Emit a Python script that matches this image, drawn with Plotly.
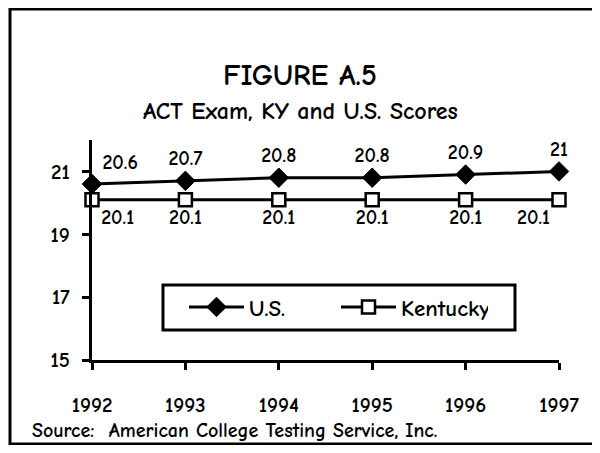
import plotly.graph_objects as go

years = [1992, 1993, 1994, 1995, 1996, 1997]
us_scores = [20.6, 20.7, 20.8, 20.8, 20.9, 21.0]
ky_scores = [20.1, 20.1, 20.1, 20.1, 20.1, 20.1]
us_labels = ["20.6", "20.7", "20.8", "20.8", "20.9", "21"]
ky_labels = ["20.1", "20.1", "20.1", "20.1", "20.1", "20.1"]
y_ticks = [15, 17, 19, 21]

FONT = "Comic Sans MS, Comic Neue, Noto Sans, sans-serif"

OFF = 8  # page body margin offset
W, H = 588, 437
L, R, T, B = 92 - OFF, 559 - OFF, 140 - OFF, 360 - OFF  # plot area in figure px


def px_x(px):
    return (px - OFF - L) / (R - L)


def px_y(py):
    return (B - (py - OFF)) / (B - T)


fig = go.Figure()
fig.add_trace(go.Scatter(
    x=years, y=us_scores, name="U.S.", mode="lines+markers+text",
    text=us_labels,
    textposition=["top right", "top center", "top center", "top center", "top center", "top center"],
    textfont=dict(family=FONT, size=20, color="black", weight="bold"),
    line=dict(color="black", width=3),
    marker=dict(symbol="diamond", size=15, color="black", line=dict(color="black", width=1)),
    cliponaxis=False,
))
fig.add_trace(go.Scatter(
    x=years, y=ky_scores, name="Kentucky", mode="lines+markers+text",
    text=ky_labels,
    textposition=["bottom right", "bottom center", "bottom center", "bottom center", "bottom center", "bottom left"],
    textfont=dict(family=FONT, size=20, color="black", weight="bold"),
    line=dict(color="black", width=3),
    marker=dict(symbol="square", size=13, color="white", line=dict(color="black", width=2.5)),
    cliponaxis=False,
))

fig.update_layout(
    width=W, height=H,
    margin=dict(l=L, r=W - R, t=T, b=H - B, pad=0),
    paper_bgcolor="white", plot_bgcolor="white",
    font=dict(family=FONT, color="black"),
    hovermode=False,
    showlegend=True,
    legend=dict(
        orientation="h", x=px_x(184), y=px_y(307), xanchor="left", yanchor="middle",
        borderwidth=0, bgcolor="rgba(0,0,0,0)",
        font=dict(family=FONT, size=23, color="black", weight="bold"),
        itemwidth=55, entrywidth=82, entrywidthmode="pixels",
    ),
    xaxis=dict(
        range=[1992, 1997], tickvals=years, ticktext=[str(y) for y in years],
        showline=True, linecolor="black", linewidth=3,
        ticks="outside", ticklen=7, tickwidth=3, tickcolor="black",
        showgrid=False, zeroline=False, ticklabelstandoff=17,
        tickfont=dict(family=FONT, size=21, color="black", weight="bold"),
    ),
    yaxis=dict(
        range=[15, 22], tickvals=y_ticks,
        showline=True, linecolor="black", linewidth=3,
        ticks="outside", ticklen=7, tickwidth=3, tickcolor="black",
        showgrid=False, zeroline=False, ticklabelstandoff=8,
        tickfont=dict(family=FONT, size=21, color="black", weight="bold"),
    ),
    shapes=[
        dict(type="rect", xref="paper", yref="paper",
             x0=px_x(10), x1=px_x(594), y0=px_y(444), y1=px_y(9),
             line=dict(color="black", width=3), fillcolor="rgba(0,0,0,0)", layer="below"),
        dict(type="rect", xref="paper", yref="paper",
             x0=px_x(163), x1=px_x(515), y0=px_y(330), y1=px_y(285),
             line=dict(color="black", width=3), fillcolor="white", layer="above"),
    ],
    annotations=[
        dict(text="<b>FIGURE A.5</b>", x=px_x(300), y=px_y(75),
             xref="paper", yref="paper", showarrow=False, xanchor="center", yanchor="middle",
             font=dict(family=FONT, size=30, color="black")),
        dict(text="<b>ACT Exam, KY and U.S. Scores</b>", x=px_x(300), y=px_y(111),
             xref="paper", yref="paper", showarrow=False, xanchor="center", yanchor="middle",
             font=dict(family=FONT, size=24, color="black")),
        dict(text="<b>Source:  American College Testing Service, Inc.</b>", x=px_x(30), y=px_y(430),
             xref="paper", yref="paper", showarrow=False, xanchor="left", yanchor="middle",
             font=dict(family=FONT, size=20, color="black")),
    ],
)

fig.write_html("out.html")
